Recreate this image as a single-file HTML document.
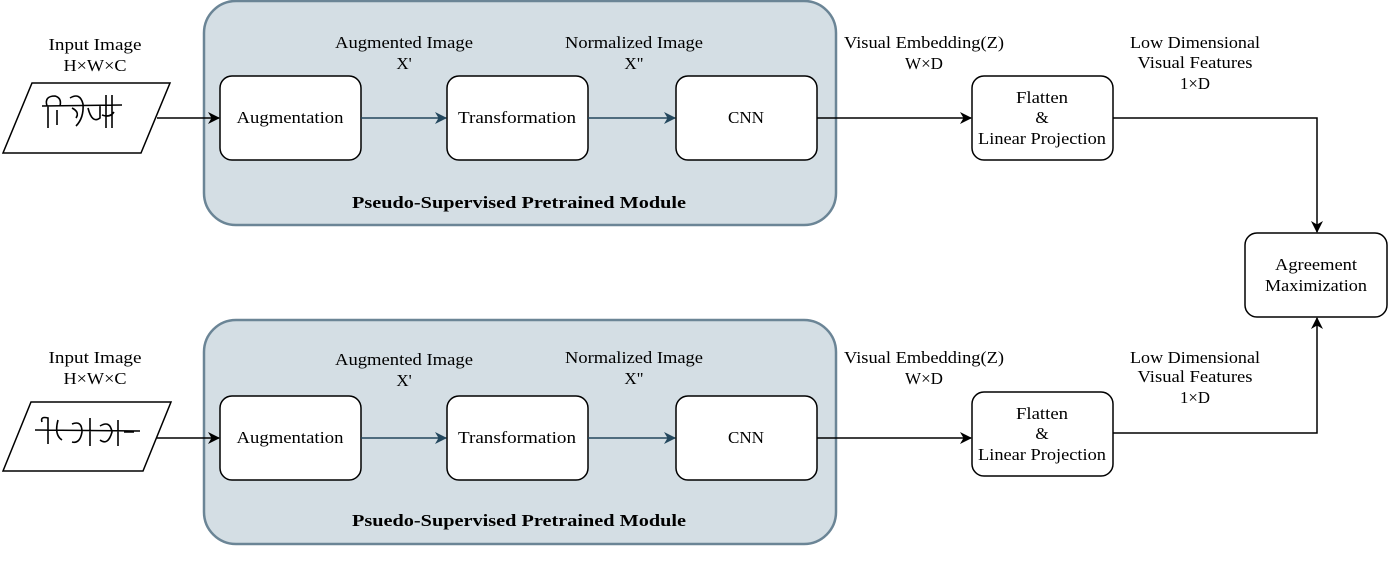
<!DOCTYPE html>
<html><head><meta charset="utf-8"><style>
html,body{margin:0;padding:0;background:#fff;}
svg{display:block;}
text{font-family:"Liberation Serif","DejaVu Serif","Times New Roman",serif;}
</style></head><body>
<svg width="1399" height="584" viewBox="0 0 1399 584" xmlns="http://www.w3.org/2000/svg">
<defs>
<marker id="ab" markerWidth="12" markerHeight="12" refX="11" refY="6" orient="auto" markerUnits="userSpaceOnUse"><path d="M0,0 L12,6 L0,12 L3.5,6 Z" fill="#000"/></marker>
<marker id="at" markerWidth="12" markerHeight="12" refX="11" refY="6" orient="auto" markerUnits="userSpaceOnUse"><path d="M0,0 L12,6 L0,12 L3.5,6 Z" fill="#23475d"/></marker>
</defs>
<g font-family="Liberation Serif, DejaVu Serif, serif" font-size="17" text-anchor="middle" fill="#000">
<rect x="204" y="1" width="632" height="224" rx="32" fill="#d4dee4" stroke="#6b8596" stroke-width="2.5"/>
<rect x="204" y="320" width="632" height="224" rx="32" fill="#d4dee4" stroke="#6b8596" stroke-width="2.5"/>

<text x="95" y="50" textLength="93" lengthAdjust="spacingAndGlyphs">Input Image</text><text x="95" y="71" textLength="63" lengthAdjust="spacingAndGlyphs">H×W×C</text>
<polygon points="32,83 170,83 141,153 3,153" fill="#fff" stroke="#000" stroke-width="1.5"/>
<path d="M42,106 L122,105 M47,106 Q44,96 55,96 Q62,98 60,106 M48,106 L48,128 M57,110 L57,125 M70,98 Q80,92 83,104 Q84,118 76,126 M72,108 Q80,112 76,118 M88,108 Q92,124 100,118 L100,106 M106,95 L106,128 M112,95 L112,128 M102,115 Q110,118 114,112" fill="none" stroke="#000" stroke-width="1.6"/>
<line x1="157" y1="118" x2="219" y2="118" stroke="#000" stroke-width="1.5" marker-end="url(#ab)"/>
<rect x="220" y="76" width="141" height="84" rx="12" fill="#fff" stroke="#000" stroke-width="1.5"/>
<text x="290" y="123" textLength="107" lengthAdjust="spacingAndGlyphs">Augmentation</text>
<text x="404" y="48" textLength="138" lengthAdjust="spacingAndGlyphs">Augmented Image</text><text x="404" y="69">X'</text>
<line x1="361" y1="118" x2="446" y2="118" stroke="#23475d" stroke-width="1.5" marker-end="url(#at)"/>
<rect x="447" y="76" width="141" height="84" rx="12" fill="#fff" stroke="#000" stroke-width="1.5"/>
<text x="517" y="123" textLength="118" lengthAdjust="spacingAndGlyphs">Transformation</text>
<text x="634" y="48" textLength="138" lengthAdjust="spacingAndGlyphs">Normalized Image</text><text x="634" y="69">X"</text>
<line x1="588" y1="118" x2="675" y2="118" stroke="#23475d" stroke-width="1.5" marker-end="url(#at)"/>
<rect x="676" y="76" width="141" height="84" rx="12" fill="#fff" stroke="#000" stroke-width="1.5"/>
<text x="746" y="123" textLength="36" lengthAdjust="spacingAndGlyphs">CNN</text>
<text x="519" y="208" font-weight="bold" textLength="334" lengthAdjust="spacingAndGlyphs">Pseudo-Supervised Pretrained Module</text>
<line x1="817" y1="118" x2="971" y2="118" stroke="#000" stroke-width="1.5" marker-end="url(#ab)"/>
<text x="924" y="48" textLength="160" lengthAdjust="spacingAndGlyphs">Visual Embedding(Z)</text><text x="924" y="69" textLength="38" lengthAdjust="spacingAndGlyphs">W×D</text>
<rect x="972" y="76" width="141" height="84" rx="12" fill="#fff" stroke="#000" stroke-width="1.5"/>
<text x="1042" y="103" textLength="52" lengthAdjust="spacingAndGlyphs">Flatten</text><text x="1042" y="123">&amp;</text><text x="1042" y="144" textLength="128" lengthAdjust="spacingAndGlyphs">Linear Projection</text>
<text x="1195" y="48" textLength="130" lengthAdjust="spacingAndGlyphs">Low Dimensional</text><text x="1195" y="68" textLength="115" lengthAdjust="spacingAndGlyphs">Visual Features</text><text x="1195" y="89" textLength="30" lengthAdjust="spacingAndGlyphs">1×D</text>
<polyline points="1113,118 1317,118 1317,232" fill="none" stroke="#000" stroke-width="1.5" marker-end="url(#ab)"/>

<rect x="1245" y="233" width="142" height="84" rx="12" fill="#fff" stroke="#000" stroke-width="1.5"/>
<text x="1316" y="270" textLength="82" lengthAdjust="spacingAndGlyphs">Agreement</text><text x="1316" y="291" textLength="102" lengthAdjust="spacingAndGlyphs">Maximization</text>

<text x="95" y="363" textLength="93" lengthAdjust="spacingAndGlyphs">Input Image</text><text x="95" y="384" textLength="63" lengthAdjust="spacingAndGlyphs">H×W×C</text>
<polygon points="31,402 171,402 143,471 3,471" fill="#fff" stroke="#000" stroke-width="1.5"/>
<path d="M35,430 L140,431 M42,422 Q40,416 48,418 L48,444 M58,420 Q54,435 62,440 M72,424 Q82,420 82,432 Q80,444 72,442 M90,418 L90,446 M100,426 Q110,420 112,432 Q108,446 100,440 M118,420 L118,446 M124,432 L134,432" fill="none" stroke="#000" stroke-width="1.6"/>
<line x1="157" y1="438" x2="219" y2="438" stroke="#000" stroke-width="1.5" marker-end="url(#ab)"/>
<rect x="220" y="396" width="141" height="84" rx="12" fill="#fff" stroke="#000" stroke-width="1.5"/>
<text x="290" y="443" textLength="107" lengthAdjust="spacingAndGlyphs">Augmentation</text>
<text x="404" y="365" textLength="138" lengthAdjust="spacingAndGlyphs">Augmented Image</text><text x="404" y="386">X'</text>
<line x1="361" y1="438" x2="446" y2="438" stroke="#23475d" stroke-width="1.5" marker-end="url(#at)"/>
<rect x="447" y="396" width="141" height="84" rx="12" fill="#fff" stroke="#000" stroke-width="1.5"/>
<text x="517" y="443" textLength="118" lengthAdjust="spacingAndGlyphs">Transformation</text>
<text x="634" y="363" textLength="138" lengthAdjust="spacingAndGlyphs">Normalized Image</text><text x="634" y="384">X"</text>
<line x1="588" y1="438" x2="675" y2="438" stroke="#23475d" stroke-width="1.5" marker-end="url(#at)"/>
<rect x="676" y="396" width="141" height="84" rx="12" fill="#fff" stroke="#000" stroke-width="1.5"/>
<text x="746" y="443" textLength="36" lengthAdjust="spacingAndGlyphs">CNN</text>
<text x="519" y="526" font-weight="bold" textLength="334" lengthAdjust="spacingAndGlyphs">Psuedo-Supervised Pretrained Module</text>
<line x1="817" y1="438" x2="971" y2="438" stroke="#000" stroke-width="1.5" marker-end="url(#ab)"/>
<text x="924" y="363" textLength="160" lengthAdjust="spacingAndGlyphs">Visual Embedding(Z)</text><text x="924" y="384" textLength="38" lengthAdjust="spacingAndGlyphs">W×D</text>
<rect x="972" y="392" width="141" height="84" rx="12" fill="#fff" stroke="#000" stroke-width="1.5"/>
<text x="1042" y="419" textLength="52" lengthAdjust="spacingAndGlyphs">Flatten</text><text x="1042" y="439">&amp;</text><text x="1042" y="460" textLength="128" lengthAdjust="spacingAndGlyphs">Linear Projection</text>
<text x="1195" y="363" textLength="130" lengthAdjust="spacingAndGlyphs">Low Dimensional</text><text x="1195" y="382" textLength="115" lengthAdjust="spacingAndGlyphs">Visual Features</text><text x="1195" y="403" textLength="30" lengthAdjust="spacingAndGlyphs">1×D</text>
<polyline points="1113,433 1317,433 1317,318" fill="none" stroke="#000" stroke-width="1.5" marker-end="url(#ab)"/>
</g>
</svg>
</body></html>
